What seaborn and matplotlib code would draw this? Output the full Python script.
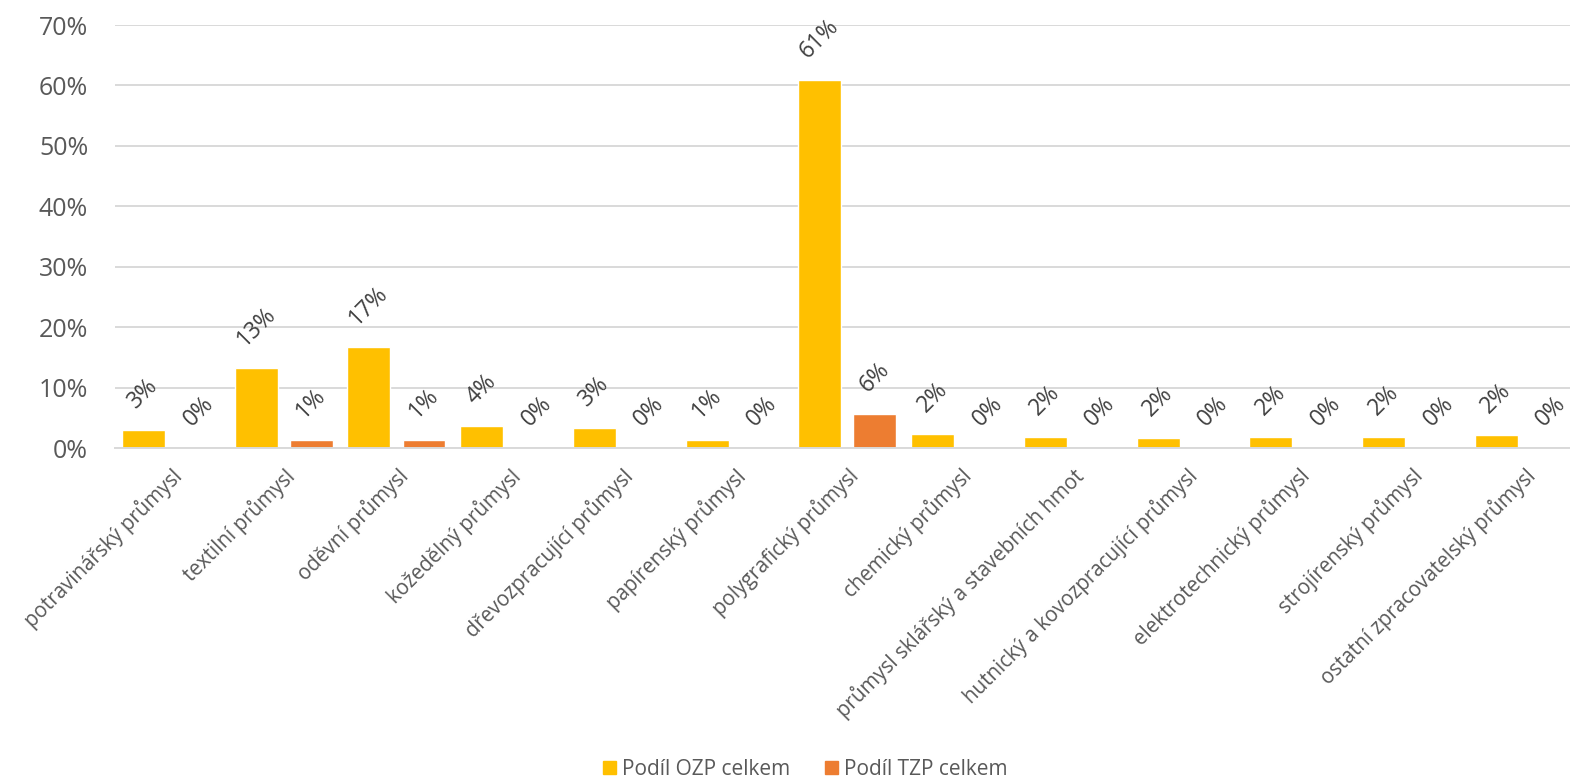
import pandas as pd
import numpy as np
import matplotlib.pyplot as plt
import seaborn as sns

# Categories and series values (percent)
categories = [
    'potravinářský průmysl', 'textilní průmysl', 'oděvní průmysl',
    'kožedělný průmysl', 'dřevozpracující průmysl', 'papírenský průmysl',
    'polygrafický průmysl', 'chemický průmysl',
    'průmysl sklářský a stavebních hmot', 'hutnický a kovozpracující průmysl',
    'elektrotechnický průmysl', 'strojírenský průmysl',
    'ostatní zpracovatelský průmysl',
]
ozp = [3.0, 13.3, 16.7, 3.6, 3.3, 1.4, 60.9, 2.4, 1.8, 1.6, 1.8, 1.9, 2.1]
tzp = [0.0, 1.3, 1.4, 0.0, 0.0, 0.0, 5.7, 0.0, 0.0, 0.0, 0.0, 0.0, 0.0]
series = ['Podíl OZP celkem', 'Podíl TZP celkem']
yticks = [0, 10, 20, 30, 40, 50, 60, 70]

data = pd.DataFrame({
    'odvětví': categories * 2,
    'podíl': ozp + tzp,
    'řada': [series[0]] * len(categories) + [series[1]] * len(categories),
})

sns.set_style('white')
plt.rcParams['font.family'] = ['Open Sans', 'DejaVu Sans']

fig = plt.figure(figsize=(15.7, 7.79), dpi=100)
ax = fig.add_axes([0.073, 0.4249, 0.9335, 0.543])

sns.barplot(data=data, x='odvětví', y='podíl', hue='řada', ax=ax,
            palette=['#FFC000', '#ED7D31'], width=0.976, gap=0.22,
            saturation=1, legend=False)

# rotated value labels above every bar
for cont in ax.containers:
    vals = [b.get_height() for b in cont]
    ax.bar_label(cont, labels=[f'{v:.0f}%' for v in vals], padding=12,
                 rotation=45, fontsize=16.5, color='#404040')

ax.set_ylim(0, 70)
ax.set_yticks(yticks)
ax.set_yticklabels([f'{t}%' for t in yticks], fontsize=18, color='#595959')
ax.set_xticks(range(len(categories)))
ax.set_xticklabels(categories, rotation=45, ha='right', rotation_mode='anchor',
                   fontsize=14.8, color='#595959')
ax.tick_params(axis='both', length=0)
ax.tick_params(axis='y', pad=19)
ax.tick_params(axis='x', pad=12)
ax.set_xlabel('')
ax.set_ylabel('')

ax.yaxis.grid(True, color='#D9D9D9', linewidth=1.4)
ax.set_axisbelow(True)
for side in ['top', 'right', 'left']:
    ax.spines[side].set_visible(False)
ax.spines['bottom'].set_color('#D9D9D9')
ax.spines['bottom'].set_linewidth(1.4)

handles = [plt.Rectangle((0, 0), 1, 1, color=c) for c in ['#FFC000', '#ED7D31']]
fig.legend(handles, series, loc='center', bbox_to_anchor=(0.513, 0.012),
           ncol=2, frameon=False, fontsize=15, handlelength=0.6,
           handleheight=0.6, handletextpad=0.3, columnspacing=1.7,
           labelcolor='#595959')

plt.savefig('out.png', dpi=100)
